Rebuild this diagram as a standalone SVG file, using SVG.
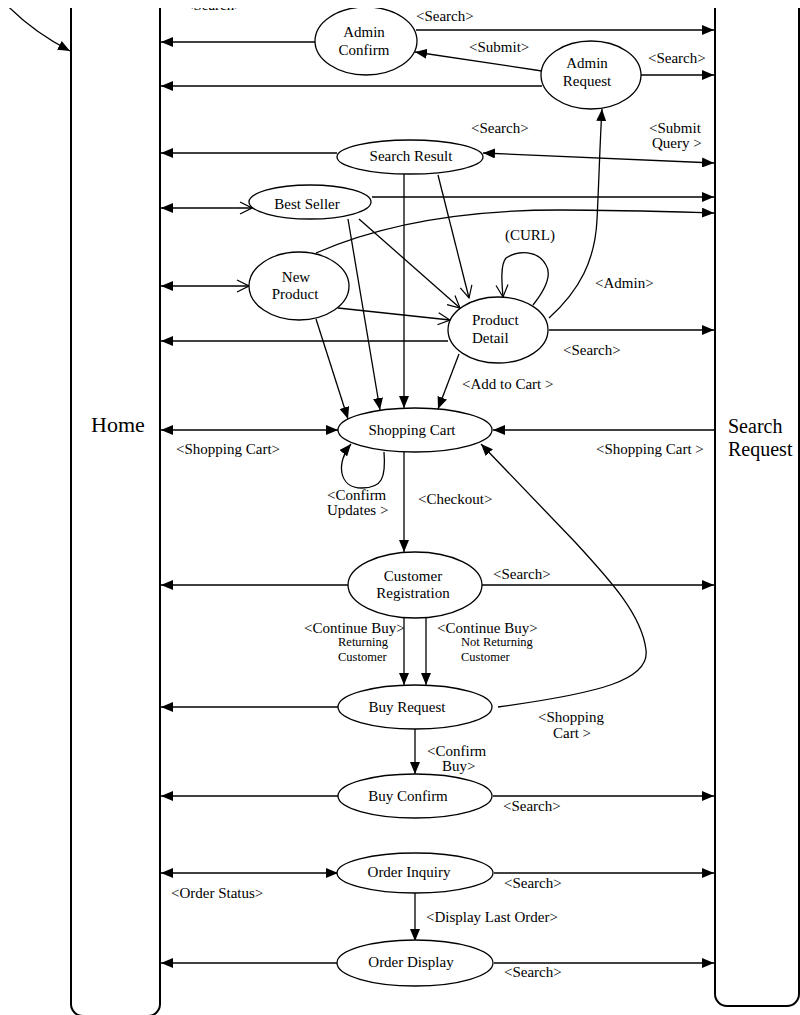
<svg xmlns="http://www.w3.org/2000/svg" width="800" height="1015" viewBox="0 0 800 1015">
<style>
.t{font-family:"Liberation Serif","Times New Roman",serif;font-size:15px;fill:#000}
.s{font-size:12.5px}
.h{font-size:22px}
.r{font-size:20px}
.m{text-anchor:middle}
.n{fill:#fff;stroke:#000;stroke-width:1.3}
.c{fill:none;stroke:#000;stroke-width:1.3}
.f{marker-end:url(#fa)}
.o{marker-end:url(#oa)}
.lane{fill:none;stroke:#000;stroke-width:2}
</style>
<defs>
<marker id="fa" viewBox="0 0 12 10" refX="12" refY="5" markerWidth="12" markerHeight="10" markerUnits="userSpaceOnUse" orient="auto-start-reverse"><path d="M0,0 L12,5 L0,10 z" fill="#000"/></marker>
<marker id="oa" viewBox="0 0 14 14" refX="13" refY="7" markerWidth="14" markerHeight="14" markerUnits="userSpaceOnUse" orient="auto"><path d="M1,1 L13,7 L1,13" fill="none" stroke="#000" stroke-width="1.2"/></marker>
<clipPath id="clip"><rect x="0" y="8" width="800" height="1007"/></clipPath>
</defs>
<rect width="800" height="1015" fill="#fff"/>
<g clip-path="url(#clip)">
<g id="lane-home">
<rect class="lane" x="71" y="-30" width="89" height="1046" rx="12"/>
<text class="t h m" x="118" y="432">Home</text>
</g>
<g id="lane-search-request">
<rect class="lane" x="715" y="-30" width="84" height="1036" rx="12"/>
<text class="t r" x="728" y="433">Search</text>
<text class="t r" x="728" y="456">Request</text>
</g>
<g id="connectors">
<path class="c f" d="M315,42 H161"/>
<path class="c f" d="M542,86 H161"/>
<path class="c f" d="M337,153 H161"/>
<path class="c o" d="M161,208 H252" marker-start="url(#fa)"/>
<path class="c o" d="M161,286 H249" marker-start="url(#fa)"/>
<path class="c f" d="M448,341 H161"/>
<path class="c f" d="M161,430 H338" marker-start="url(#fa)"/>
<path class="c f" d="M349,585 H161"/>
<path class="c f" d="M338,707 H161"/>
<path class="c f" d="M338,796 H161"/>
<path class="c f" d="M161,873 H338" marker-start="url(#fa)"/>
<path class="c f" d="M338,963 H161"/>
<path class="c f" d="M416,30 H714"/>
<path class="c f" d="M641,75 H714"/>
<path class="c f" d="M483,153 L714,163" marker-start="url(#fa)"/>
<path class="c f" d="M372,197 H714"/>
<path class="c f" d="M316,253 C380,225 460,210 560,210 C620,210 680,212 714,213"/>
<path class="c f" d="M549,330 H714"/>
<path class="c f" d="M714,430 H493"/>
<path class="c f" d="M482,585 H714"/>
<path class="c f" d="M493,796 H714"/>
<path class="c f" d="M494,873 H714"/>
<path class="c f" d="M494,963 H714"/>
<path class="c f" d="M542,71 L415,52"/>
<path class="c f" d="M404,174 V408"/>
<path class="c o" d="M438,175 L469,298"/>
<path class="c f" d="M348,219 L380,410"/>
<path class="c o" d="M359,219 L460,308"/>
<path class="c o" d="M338,308 L450,320"/>
<path class="c f" d="M316,319 L348,419"/>
<path class="c f" d="M459,354 L438,409"/>
<path class="c o" d="M533,305 C545,290 552,275 546,265 C538,250 518,250 506,258 C500,265 502,285 503,297"/>
<path class="c f" d="M549,318 C580,290 595,260 597,220 C599,180 600,140 602,109"/>
<path class="c f" d="M384,452 C386,478 382,488 362,488 C338,488 336,462 351,444"/>
<path class="c f" d="M404,452 V552"/>
<path class="c f" d="M404,618 V685"/>
<path class="c f" d="M426,618 V685"/>
<path class="c f" d="M498,707 C600,693 650,680 646,650 C642,615 610,580 575,542 L481,444"/>
<path class="c f" d="M415,729 V774"/>
<path class="c f" d="M415,893 V941"/>
<path class="c f" d="M4,2 Q30,30 70,51"/>
</g>
<g id="admin-confirm"><ellipse class="n" cx="366" cy="41" rx="51" ry="34"/><text class="t m" x="364" y="37">Admin</text><text class="t m" x="364" y="55">Confirm</text></g>
<g id="admin-request"><ellipse class="n" cx="591" cy="75" rx="50" ry="34"/><text class="t m" x="587" y="68">Admin</text><text class="t m" x="587" y="86">Request</text></g>
<g id="search-result"><ellipse class="n" cx="410" cy="157" rx="73" ry="17"/><text class="t m" x="411" y="161">Search Result</text></g>
<g id="best-seller"><ellipse class="n" cx="310" cy="202" rx="61" ry="17"/><text class="t m" x="307" y="209">Best Seller</text></g>
<g id="new-product"><ellipse class="n" cx="299" cy="286" rx="50" ry="34"/><text class="t m" x="296" y="282">New</text><text class="t m" x="295" y="299">Product</text></g>
<g id="product-detail"><ellipse class="n" cx="498" cy="330" rx="50" ry="33"/><text class="t" x="472" y="325">Product</text><text class="t" x="472" y="343">Detail</text></g>
<g id="shopping-cart"><ellipse class="n" cx="415" cy="430" rx="77" ry="22"/><text class="t m" x="412" y="435">Shopping Cart</text></g>
<g id="customer-registration"><ellipse class="n" cx="415" cy="585" rx="67" ry="33"/><text class="t m" x="413" y="581">Customer</text><text class="t m" x="413" y="598">Registration</text></g>
<g id="buy-request"><ellipse class="n" cx="415" cy="707" rx="77" ry="22"/><text class="t m" x="407" y="712">Buy Request</text></g>
<g id="buy-confirm"><ellipse class="n" cx="415" cy="796" rx="77" ry="22"/><text class="t m" x="408" y="801">Buy Confirm</text></g>
<g id="order-inquiry"><ellipse class="n" cx="415" cy="873" rx="78" ry="20"/><text class="t m" x="409" y="877">Order Inquiry</text></g>
<g id="order-display"><ellipse class="n" cx="415" cy="963" rx="78" ry="23"/><text class="t m" x="411" y="967">Order Display</text></g>
<g id="labels">
<text class="t" x="185" y="10">&lt;Search&gt;</text>
<text class="t" x="416" y="21">&lt;Search&gt;</text>
<text class="t" x="469" y="52">&lt;Submit&gt;</text>
<text class="t" x="648" y="63">&lt;Search&gt;</text>
<text class="t" x="471" y="133">&lt;Search&gt;</text>
<text class="t" x="649" y="133">&lt;Submit</text>
<text class="t" x="652" y="148">Query &gt;</text>
<text class="t" x="505" y="240">(CURL)</text>
<text class="t" x="595" y="288">&lt;Admin&gt;</text>
<text class="t" x="563" y="355">&lt;Search&gt;</text>
<text class="t" x="462" y="389">&lt;Add to Cart &gt;</text>
<text class="t" x="176" y="454">&lt;Shopping Cart&gt;</text>
<text class="t" x="596" y="454">&lt;Shopping Cart &gt;</text>
<text class="t" x="327" y="500">&lt;Confirm</text>
<text class="t" x="327" y="515">Updates &gt;</text>
<text class="t" x="418" y="504">&lt;Checkout&gt;</text>
<text class="t" x="493" y="579">&lt;Search&gt;</text>
<text class="t" x="304" y="633">&lt;Continue Buy&gt;</text>
<text class="t s" x="338" y="646">Returning</text>
<text class="t s" x="338" y="661">Customer</text>
<text class="t" x="437" y="633">&lt;Continue Buy&gt;</text>
<text class="t s" x="461" y="646">Not Returning</text>
<text class="t s" x="461" y="661">Customer</text>
<text class="t" x="538" y="722">&lt;Shopping</text>
<text class="t" x="553" y="738">Cart &gt;</text>
<text class="t" x="427" y="756">&lt;Confirm</text>
<text class="t" x="442" y="771">Buy&gt;</text>
<text class="t" x="503" y="811">&lt;Search&gt;</text>
<text class="t" x="171" y="898">&lt;Order Status&gt;</text>
<text class="t" x="504" y="888">&lt;Search&gt;</text>
<text class="t" x="426" y="922">&lt;Display Last Order&gt;</text>
<text class="t" x="504" y="977">&lt;Search&gt;</text>
</g>
</g>
</svg>
